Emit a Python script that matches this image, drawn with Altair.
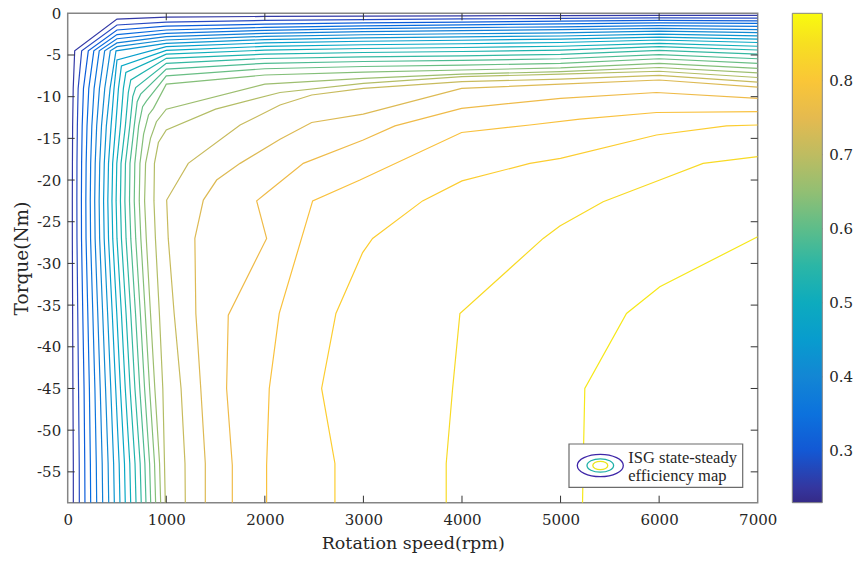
import altair as alt
import pandas as pd

# ---------------- colour bar (efficiency) ----------------
EFF_MIN = 0.230
EFF_MAX = 0.891
CBAR_TICKS = [0.3, 0.4, 0.5, 0.6, 0.7, 0.8]

# parula colormap rows (of 64) and their colours
PARULA_ROWS = [0, 4, 8, 12, 16, 20, 24, 28, 32, 36, 40, 44, 48, 52, 56, 60, 63]
PARULA_HEX = ["#352a87", "#3243ba", "#0363e1", "#0d75dc", "#1485d4", "#0998d1",
              "#06a7c6", "#15b1b4", "#38b99e", "#65be86", "#92bf73", "#b7bd64",
              "#d9ba56", "#f8bb44", "#fcce2e", "#f5e41d", "#f9fb0e"]

# contour levels (25 lines)
LEVELS = [0.2554, 0.2808, 0.3062, 0.3317, 0.3571, 0.3825, 0.4079, 0.4333,
          0.4588, 0.4842, 0.5096, 0.5350, 0.5604, 0.5859, 0.6113, 0.6367,
          0.6621, 0.6875, 0.7130, 0.7384, 0.7638, 0.7892, 0.8146, 0.8401, 0.8655]

# ---------------- contour lines (rpm, Nm) ----------------
L01_X = [57, 57, 53, 50, 47, 47, 48, 50, 56, 71, 500, 1000, 2000, 3000, 4000, 5000, 6000, 7000]
L01_Y = [-58.7, -54, -45, -36, -27, -22.5, -18, -13.5, -9, -4.5, -0.7, -0.45, -0.38, -0.33, -0.3, -0.28, -0.25, -0.25]
L02_X = [118, 117, 110, 102, 94, 93, 94, 98, 106, 142, 500, 1000, 2000, 3000, 4000, 5000, 6000, 7000]
L02_Y = [-58.7, -54, -45, -36, -27, -22.5, -18, -13.5, -9, -4.5, -1.4, -1.05, -0.85, -0.75, -0.68, -0.62, -0.55, -0.58]
L03_X = [175, 173, 166, 153, 140, 139, 141, 147, 160, 209, 500, 1000, 2000, 3000, 4000, 5000, 6000, 7000]
L03_Y = [-58.7, -54, -45, -36, -27, -22.5, -18, -13.5, -9, -4.5, -2.0, -1.55, -1.3, -1.15, -1.05, -0.95, -0.85, -0.9]
L04_X = [233, 230, 220, 204, 186, 184, 187, 196, 214, 265, 500, 1000, 2000, 3000, 4000, 5000, 6000, 7000]
L04_Y = [-58.7, -54, -45, -36, -27, -22.5, -18, -13.5, -9, -4.5, -2.55, -2.0, -1.7, -1.5, -1.38, -1.28, -1.15, -1.22]
L05_X = [294, 290, 276, 255, 232, 229, 233, 245, 268, 320, 500, 1000, 2000, 3000, 4000, 5000, 6000, 7000]
L05_Y = [-58.7, -54, -45, -36, -27, -22.5, -18, -13.5, -9, -4.5, -3.05, -2.4, -2.05, -1.85, -1.72, -1.62, -1.48, -1.58]
L06_X = [355, 350, 330, 305, 278, 274, 279, 294, 322, 375, 500, 1000, 2000, 3000, 4000, 5000, 6000, 7000]
L06_Y = [-58.7, -54, -45, -36, -27, -22.5, -18, -13.5, -9, -4.5, -3.55, -2.8, -2.4, -2.2, -2.07, -1.97, -1.8, -1.95]
L07_X = [416, 410, 384, 355, 324, 319, 325, 343, 376, 432, 500, 1000, 2000, 3000, 4000, 5000, 6000, 7000]
L07_Y = [-58.7, -54, -45, -36, -27, -22.5, -18, -13.5, -9, -4.5, -4.0, -3.2, -2.77, -2.57, -2.45, -2.35, -2.15, -2.32]
L08_X = [473, 466, 437, 405, 370, 364, 371, 392, 430, 490, 1000, 2000, 3000, 4000, 5000, 6000, 7000]
L08_Y = [-58.7, -54, -45, -36, -27, -22.5, -18, -13.5, -9, -4.5, -3.6, -3.15, -2.95, -2.83, -2.72, -2.5, -2.7]
L09_X = [530, 522, 487, 452, 414, 407, 414, 440, 470, 500, 1000, 2000, 3000, 4000, 5000, 6000, 7000]
L09_Y = [-58.7, -54, -45, -36, -27, -22.5, -18, -13.5, -9, -5.6, -4.0, -3.55, -3.35, -3.23, -3.1, -2.85, -3.1]
L10_X = [584, 576, 535, 498, 457, 449, 456, 487, 515, 545, 1000, 2000, 3000, 4000, 5000, 6000, 7000]
L10_Y = [-58.7, -54, -45, -36, -27, -22.5, -18, -13.5, -9, -6.3, -4.45, -3.97, -3.77, -3.65, -3.5, -3.2, -3.5]
L11_X = [639, 630, 584, 545, 500, 491, 498, 535, 565, 590, 1000, 2000, 3000, 4000, 5000, 6000, 7000]
L11_Y = [-58.7, -54, -45, -36, -27, -22.5, -18, -13.5, -9, -7.1, -4.9, -4.42, -4.22, -4.1, -3.95, -3.6, -3.95]
L12_X = [693, 683, 633, 592, 545, 535, 541, 585, 615, 640, 1000, 2000, 3000, 4000, 5000, 6000, 7000]
L12_Y = [-58.7, -54, -45, -36, -27, -22.5, -18, -13.5, -9.5, -8.0, -5.4, -4.9, -4.7, -4.58, -4.42, -4.0, -4.4]
L13_X = [746, 735, 682, 640, 592, 580, 586, 630, 660, 690, 1000, 2000, 3000, 4000, 5000, 6000, 7000]
L13_Y = [-58.7, -54, -45, -36, -27, -22.5, -18, -13.5, -10, -8.9, -6.0, -5.42, -5.22, -5.1, -4.92, -4.45, -4.9]
L14_X = [794, 783, 731, 688, 640, 627, 632, 675, 705, 740, 1000, 2000, 3000, 4000, 5000, 6000, 7000]
L14_Y = [-58.7, -54, -45, -36, -27, -22.5, -18, -13.5, -10.6, -9.7, -6.7, -6.0, -5.78, -5.65, -5.45, -4.95, -5.45]
L15_X = [842, 831, 780, 737, 690, 675, 681, 720, 760, 800, 1000, 2000, 3000, 4000, 5000, 6000, 7000]
L15_Y = [-58.7, -54, -45, -36, -27, -22.5, -18, -13.5, -11.2, -10.5, -7.5, -6.65, -6.38, -6.22, -6.0, -5.45, -6.0]
L16_X = [892, 881, 831, 787, 742, 726, 733, 770, 820, 870, 1000, 2000, 3000, 4000, 5000, 6000, 7000]
L16_Y = [-58.7, -54, -45, -36, -27, -22.5, -18, -14.5, -12.2, -11.4, -8.5, -7.4, -7.05, -6.8, -6.55, -6.0, -6.6]
L17_X = [943, 932, 884, 840, 797, 780, 790, 840, 900, 1000, 2000, 3000, 4000, 5000, 6000, 7000]
L17_Y = [-58.7, -54, -45, -36, -27, -22.5, -18, -15, -13, -11.5, -8.5, -7.8, -7.3, -7.0, -6.5, -7.15]
L18_X = [990, 982, 965, 930, 890, 875, 880, 920, 1000, 1500, 2154, 3000, 4000, 5000, 6000, 7000]
L18_Y = [-58.7, -54, -45, -36, -27, -22.5, -18, -15.5, -14.0, -11.5, -9.5, -8.4, -7.6, -7.3, -6.95, -7.7]
L19_X = [1193, 1190, 1150, 1080, 1020, 1004, 1223, 1749, 2154, 2475, 3000, 4000, 5000, 6000, 7000]
L19_Y = [-58.7, -54, -45, -36, -27, -22.4, -18, -13.4, -11.0, -9.8, -9.0, -8.2, -7.9, -7.45, -8.25]
L20_X = [1396, 1396, 1350, 1300, 1290, 1376, 1511, 1749, 2154, 2475, 2998, 3996, 5000, 6000, 7000]
L20_Y = [-58.7, -54, -45, -36, -27, -22.4, -20, -18, -15.1, -13.1, -12.1, -9.0, -8.5, -8.0, -8.85]
L21_X = [1670, 1670, 1612, 1629, 2018, 1917, 2000, 2390, 2998, 3320, 3996, 5000, 5973, 7000]
L21_Y = [-58.7, -54.2, -45, -36.2, -27, -22.5, -21.7, -18, -15.2, -13.5, -11.4, -10.2, -9.5, -10.2]
L22_X = [2018, 2018, 2045, 2146, 2485, 2965, 3996, 4689, 5196, 5973, 7000]
L22_Y = [-58.7, -54.2, -45, -36, -22.5, -20, -14.3, -13.4, -12.7, -11.9, -11.8]
L23_X = [2711, 2711, 2576, 2721, 2992, 3093, 3600, 4000, 4689, 5000, 5973, 6683, 7000]
L23_Y = [-58.7, -54, -45, -36, -28.7, -27, -22.5, -20.1, -18, -17.4, -14.6, -13.5, -13.4]
L24_X = [3840, 3840, 3905, 3979, 4824, 4993, 5432, 6007, 6446, 7000]
L24_Y = [-58.7, -54, -45, -36, -27, -25.5, -22.6, -20, -18, -17.2]
L25_X = [5223, 5230, 5246, 5669, 6007, 7000]
L25_Y = [-58.7, -54, -45, -36, -32.8, -26.8]

LINES = [(L01_X, L01_Y), (L02_X, L02_Y), (L03_X, L03_Y), (L04_X, L04_Y), (L05_X, L05_Y),
         (L06_X, L06_Y), (L07_X, L07_Y), (L08_X, L08_Y), (L09_X, L09_Y), (L10_X, L10_Y),
         (L11_X, L11_Y), (L12_X, L12_Y), (L13_X, L13_Y), (L14_X, L14_Y), (L15_X, L15_Y),
         (L16_X, L16_Y), (L17_X, L17_Y), (L18_X, L18_Y), (L19_X, L19_Y), (L20_X, L20_Y),
         (L21_X, L21_Y), (L22_X, L22_Y), (L23_X, L23_Y), (L24_X, L24_Y), (L25_X, L25_Y)]

X_TICKS = [0, 1000, 2000, 3000, 4000, 5000, 6000, 7000]
Y_TICKS = [0, -5, -10, -15, -20, -25, -30, -35, -40, -45, -50, -55]
X_MIN, X_MAX = 0, 7000
Y_MIN, Y_MAX = -58.7, 0

LEGEND_LABEL = ["ISG state-steady", "efficiency map"]
# key ellipses: (colour, half width, half height) in key-symbol units
KEY_ELLIPSES = [("#3e26a8", 1.0, 0.487), ("#1fb0a8", 0.578, 0.291), ("#ece51b", 0.326, 0.183)]

# ---------------- layout ----------------
W, H = 690, 489.4
PAD_L, PAD_T = 67.7, 13.3
AXIS_GRAY = "#858585"
TEXT = "#262626"
SERIF = "DejaVu Serif"

rows = []
for i, (xs, ys) in enumerate(LINES):
    for j, (x, y) in enumerate(zip(xs, ys)):
        rows.append({"lid": i, "ord": j, "rpm": x, "torque": y, "eff": LEVELS[i]})
df = pd.DataFrame(rows)

cdomain = [EFF_MIN + (EFF_MAX - EFF_MIN) * r / 63 for r in PARULA_ROWS]

xscale = alt.Scale(domain=[X_MIN, X_MAX], nice=False, zero=False)
yscale = alt.Scale(domain=[Y_MIN, Y_MAX], nice=False, zero=False)
cscale = alt.Scale(domain=[EFF_MIN, EFF_MAX], nice=False, zero=False)

lines = alt.Chart(df).mark_line(strokeWidth=1.2, clip=True).encode(
    x=alt.X("rpm:Q", scale=xscale,
            axis=alt.Axis(values=X_TICKS, format="d", title="Rotation speed(rpm)",
                          ticks=False, domain=False, grid=False, labelFlush=False,
                          labelFont=SERIF, labelFontSize=15, labelColor=TEXT,
                          labelPadding=10, titleFont=SERIF, titleFontSize=17.5,
                          titleFontWeight="normal", titleColor=TEXT, titlePadding=7)),
    y=alt.Y("torque:Q", scale=yscale,
            axis=alt.Axis(values=Y_TICKS, labelExpr="'' + datum.value",
                          title="Torque(Nm)", ticks=False, domain=False, grid=False,
                          labelFlush=False,
                          labelFont=SERIF, labelFontSize=15, labelColor=TEXT,
                          labelPadding=7, titleFont=SERIF, titleFontSize=18.5,
                          titleFontWeight="normal", titleColor=TEXT, titlePadding=5)),
    color=alt.Color("eff:Q",
                    scale=alt.Scale(domain=cdomain, range=PARULA_HEX, type="linear",
                                    interpolate="rgb"),
                    legend=alt.Legend(orient="none", legendX=724.6, legendY=0,
                                      direction="vertical", title=None,
                                      gradientLength=H, gradientThickness=30,
                                      gradientStrokeColor=AXIS_GRAY, gradientStrokeWidth=1,
                                      values=CBAR_TICKS, format=".1f",
                                      labelFont=SERIF, labelFontSize=15, labelColor=TEXT,
                                      labelOffset=7, labelOverlap=False, padding=0)),
    detail="lid:N",
    order="ord:Q",
)

# inward tick marks on all four sides of the plot
xt = pd.DataFrame({"v": X_TICKS[1:-1]})
yt = pd.DataFrame({"v": Y_TICKS[1:]})
TL = 7
tick_b = alt.Chart(xt).mark_rule(color="#333333", strokeWidth=1).encode(
    x=alt.X("v:Q", scale=xscale), y=alt.value(H), y2=alt.value(H - TL))
tick_t = alt.Chart(xt).mark_rule(color="#333333", strokeWidth=1).encode(
    x=alt.X("v:Q", scale=xscale), y=alt.value(0), y2=alt.value(TL))
tick_l = alt.Chart(yt).mark_rule(color="#333333", strokeWidth=1).encode(
    y=alt.Y("v:Q", scale=yscale, axis=None), x=alt.value(0), x2=alt.value(TL))
tick_r = alt.Chart(yt).mark_rule(color="#333333", strokeWidth=1).encode(
    y=alt.Y("v:Q", scale=yscale, axis=None), x=alt.value(W), x2=alt.value(W - TL))

# colour-bar ticks (right edge of the bar, pointing inward)
CB_X0, CB_W = 724.6, 30
ct = pd.DataFrame({"v": CBAR_TICKS})
tick_cb = alt.Chart(ct).mark_rule(color="#333333", strokeWidth=1).encode(
    y=alt.Y("v:Q", scale=cscale, axis=None),
    x=alt.value(CB_X0 + CB_W - 4), x2=alt.value(CB_X0 + CB_W))

# key box (ISG state-steady efficiency map)
KX0, KY0, KX1, KY1 = 501.3, 430.7, 675.0, 474.0
KCX, KCY = 532.6, 452.2
one = pd.DataFrame({"k": [0]})
key_box = alt.Chart(one).mark_rect(fill="white", stroke="#6b6b6b", strokeWidth=1.2).encode(
    x=alt.value(KX0), x2=alt.value(KX1), y=alt.value(KY0), y2=alt.value(KY1))
key_layers = [key_box]
for col, rx, ry in KEY_ELLIPSES:
    path = f"M{-rx},0 A{rx},{ry} 0 1,0 {rx},0 A{rx},{ry} 0 1,0 {-rx},0 Z"
    key_layers.append(
        alt.Chart(one).mark_point(shape=path, size=46 * 46, filled=False, stroke=col,
                                  strokeWidth=1.3, opacity=1).encode(
            x=alt.value(KCX), y=alt.value(KCY)))
key_text = alt.Chart(one).mark_text(text=LEGEND_LABEL, align="left", baseline="alphabetic",
                                    font="Liberation Serif", fontSize=16.5, color=TEXT,
                                    lineHeight=18.3).encode(
    x=alt.value(560.6), y=alt.value(449.3))
key_layers.append(key_text)

chart = alt.layer(lines, tick_b, tick_t, tick_l, tick_r, tick_cb, *key_layers).resolve_scale(
    y="independent"
).properties(
    width=W, height=H,
    autosize=alt.AutoSizeParams(type="none"),
    padding={"left": PAD_L, "top": PAD_T, "right": 856 - PAD_L - W, "bottom": 561 - PAD_T - H},
    background="white",
).configure_view(
    stroke=AXIS_GRAY, strokeWidth=1.5
).configure_legend(
    gradientVerticalMaxLength=600
)

chart.save("out.html", embed_options={"renderer": "svg", "actions": False})
